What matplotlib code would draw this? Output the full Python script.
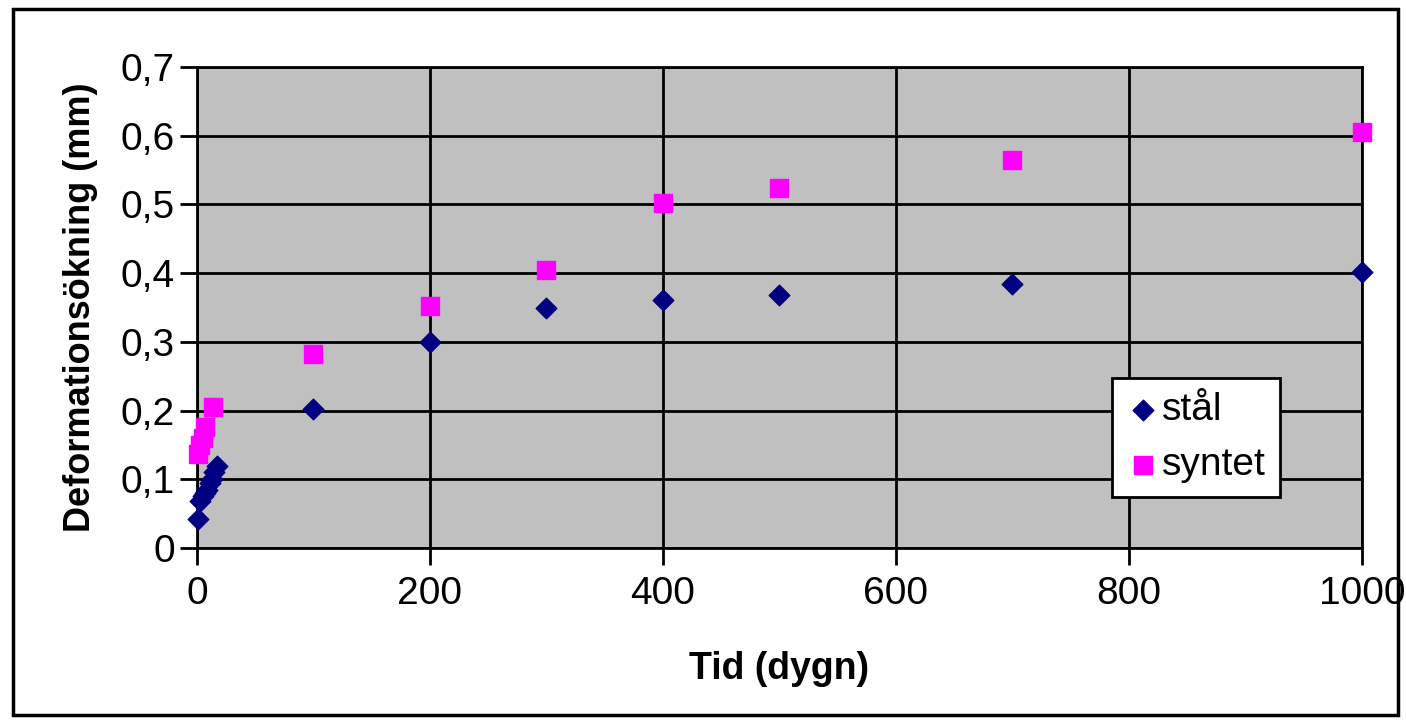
import matplotlib.pyplot as plt
import matplotlib.patches as mpatches

plt.rcParams['font.family'] = ['Liberation Sans', 'DejaVu Sans']

# Tid (dygn) och deformationsökning (mm)
dagar_stal = [1, 3, 5, 7, 9, 11, 13, 15, 17, 100, 200, 300, 400, 500, 700, 1000]
def_stal = [0.042, 0.068, 0.075, 0.08, 0.085, 0.095, 0.10, 0.11, 0.12,
            0.202, 0.30, 0.349, 0.361, 0.368, 0.384, 0.402]

dagar_syntet = [1, 3, 5, 7, 14, 100, 200, 300, 400, 500, 700, 1000]
def_syntet = [0.137, 0.15, 0.16, 0.176, 0.205,
              0.282, 0.352, 0.405, 0.502, 0.524, 0.565, 0.605]

xticks = [0, 200, 400, 600, 800, 1000]
yticks = [0, 0.1, 0.2, 0.3, 0.4, 0.5, 0.6, 0.7]
ytick_labels = ['0', '0,1', '0,2', '0,3', '0,4', '0,5', '0,6', '0,7']

fig = plt.figure(figsize=(14.06, 7.24), dpi=100)
# outer frame of the chart area
fig.patches.append(mpatches.Rectangle((0.009, 0.012), 0.985, 0.975, transform=fig.transFigure,
                                      fill=False, edgecolor='black', linewidth=2.5))

ax = fig.add_axes([0.1401, 0.2431, 0.8286, 0.6644])
ax.set_facecolor('#C0C0C0')

ax.scatter(dagar_stal, def_stal, marker='D', s=110, color='#000080', label='stål',
           zorder=3, clip_on=False)
ax.scatter(dagar_syntet, def_syntet, marker='s', s=150, color='#FF00FF', label='syntet',
           zorder=3, clip_on=False)

ax.set_xlim(0, 1000)
ax.set_ylim(0, 0.7)
ax.set_xticks(xticks)
ax.set_yticks(yticks)
ax.set_yticklabels(ytick_labels)
ax.grid(True, color='black', linewidth=2)
ax.set_axisbelow(True)
for s in ax.spines.values():
    s.set_linewidth(2)
ax.tick_params(axis='both', direction='out', length=12, width=2, labelsize=28)
ax.tick_params(axis='x', pad=8)
ax.tick_params(axis='y', pad=4)

ax.set_xlabel('Tid (dygn)', fontsize=27, fontweight='bold', labelpad=28)
ax.set_ylabel('Deformationsökning (mm)', fontsize=26, fontweight='bold', labelpad=16)

leg = ax.legend(loc='upper left', bbox_to_anchor=(0.785, 0.353), fontsize=28,
                frameon=True, fancybox=False, framealpha=1, borderpad=0.35,
                handletextpad=0.05, handlelength=0.9, labelspacing=0.5,
                markerscale=1.0, borderaxespad=0)
leg.get_frame().set_edgecolor('black')
leg.get_frame().set_linewidth(2)

fig.savefig('out.png', dpi=100)
